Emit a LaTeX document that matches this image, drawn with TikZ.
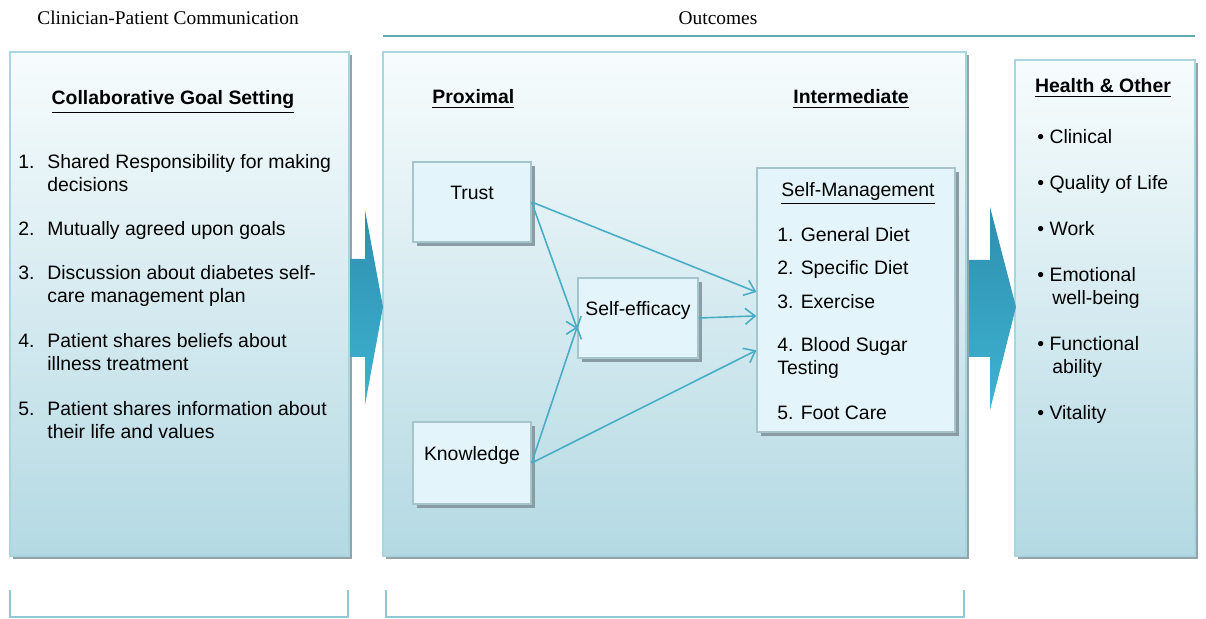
\documentclass[tikz,border=0pt]{standalone}
\usepackage{fontspec}
\setmainfont{Liberation Serif}
\setsansfont{Liberation Sans}
\usepackage{tikz}
\usetikzlibrary{arrows.meta,calc,positioning,shadows}
\definecolor{edge}{HTML}{A9D5DF}
\definecolor{shade}{HTML}{8699A1}
\definecolor{paneltop}{HTML}{F7FCFD}
\definecolor{panelbot}{HTML}{B4D9E3}
\definecolor{boxfill}{HTML}{E3F5FA}
\definecolor{boxedge}{HTML}{A5C4CC}
\definecolor{link}{HTML}{4AADC6}
\definecolor{bigA}{HTML}{2E8EAF}
\definecolor{bigB}{HTML}{3EB3D1}
\definecolor{brace}{HTML}{8FC9D5}
\definecolor{rule}{HTML}{5EADB3}
\def\uhead#1{\underline{\textbf{#1}}}

\tikzset{
  panel/.style={top color=paneltop,bottom color=panelbot,draw=edge,line width=1pt,
    drop shadow={shadow xshift=1.3pt,shadow yshift=-1.3pt,fill=shade,opacity=.9}},
  stage/.style={draw=boxedge,fill=boxfill,line width=.6pt,inner sep=0pt,
    text height=7pt,text depth=9pt,
    drop shadow={shadow xshift=1.8pt,shadow yshift=-1.8pt,fill=shade,opacity=.95}},
  title/.style={font=\rmfamily\fontsize{9.7}{11.5}\selectfont,anchor=base},
  item/.style={anchor=base west,inner sep=0pt,align=left},
  link/.style={draw=link,line width=.8pt,-{Straight Barb[length=5pt,width=8pt]}},
  bigarrow/.style={top color=bigA,bottom color=bigB},
}

\begin{document}
\begin{tikzpicture}[x=0.5pt,y=-0.5pt,font=\sffamily\fontsize{9.7}{11.5}\selectfont]
  \useasboundingbox (0,0) rectangle (1206,619);
  % the three columns
  \path[panel] (10,52) rectangle (349,556);
  \path[panel] (383,52) rectangle (966,556);
  \path[panel] (1015,60) rectangle (1195,556);
  % brackets under the columns
  \draw[brace,line width=1pt] (10,590) -- (10,617) -- (348,617) -- (348,590);
  \draw[brace,line width=1pt] (386,590) -- (386,617) -- (964,617) -- (964,590);
  % labels over the columns
  \node[title] (cpc) at (168,25) {Clinician-Patient Communication};
  \node[title] (out) at (718,25) {Outcomes};
  \draw[rule,line width=1.2pt] (383,36) -- (1195,36);
  % block arrows between columns
  \path[bigarrow] (350,259) -- (365,259) -- (365,210) -- (383,307)
    -- (365,405) -- (365,357) -- (350,357) -- cycle;
  \path[bigarrow] (969,260) -- (990,260) -- (990,207) -- (1016,307)
    -- (990,410) -- (990,357) -- (969,357) -- cycle;

  % left column
  \node[anchor=base] (cgs) at (173,105) {\uhead{Collaborative Goal Setting}};
  \node[item] (n1) at (18,169) {1.};
  \node[item] (g1) at (47,192) {Shared Responsibility for making\\decisions};
  \node[item] (n2) at (18,236) {2.};
  \node[item] (g2) at (47,236) {Mutually agreed upon goals};
  \node[item] (n3) at (18,280) {3.};
  \node[item] (g3) at (47,303) {Discussion about diabetes self-\\care management plan};
  \node[item] (n4) at (18,348) {4.};
  \node[item] (g4) at (47,371) {Patient shares beliefs about\\illness treatment};
  \node[item] (n5) at (18,416) {5.};
  \node[item] (g5) at (47,439) {Patient shares information about\\their life and values};

  % middle column
  \node[item] (prox) at (432,104) {\uhead{Proximal}};
  \node[item] (inter) at (793,104) {\uhead{Intermediate}};
  \node[stage,minimum width=59pt,minimum height=40pt] (trust) at (472,202) {Trust};
  \node[stage,minimum width=60pt,minimum height=40pt] (se) at (638,318) {Self-efficacy};
  \node[stage,minimum width=59pt,minimum height=41pt] (know) at (472,463) {Knowledge};
  \node[stage,minimum width=99pt,minimum height=132pt] (sm) at (856,300) {};
  \node[anchor=base] (smh) at (858,197) {\underline{Self-Management}};
  \node[item] (s1) at (777,242) {1. General Diet};
  \node[item] (s2) at (777,275) {2. Specific Diet};
  \node[item] (s3) at (777,309) {3. Exercise};
  \node[item] (s4) at (777,375) {4. Blood Sugar\\Testing};
  \node[item] (s5) at (777,420) {5. Foot Care};
  \draw[link] (trust.east) -- ($(se.north west)!.64!(se.south west)$);
  \draw[link] (know.east) -- ($(se.north west)!.60!(se.south west)$);
  \draw[link] (trust.east) -- ($(sm.north west)!.47!(sm.south west)$);
  \draw[link] (se.east) -- ($(sm.north west)!.56!(sm.south west)$);
  \draw[link] (know.east) -- ($(sm.north west)!.69!(sm.south west)$);

  % right column
  \node[anchor=base] (ho) at (1103,93) {\uhead{Health \& Other}};
  \node[item] (h1) at (1037,144) {\textbullet\ Clinical};
  \node[item] (h2) at (1037,190) {\textbullet\ Quality of Life};
  \node[item] (h3) at (1037,236) {\textbullet\ Work};
  \node[item] (h4) at (1037,282) {\textbullet\ Emotional};
  \node[item] (h4b) at (1052,305) {well-being};
  \node[item] (h5) at (1037,351) {\textbullet\ Functional};
  \node[item] (h5b) at (1052,374) {ability};
  \node[item] (h6) at (1037,420) {\textbullet\ Vitality};
\end{tikzpicture}
\end{document}
